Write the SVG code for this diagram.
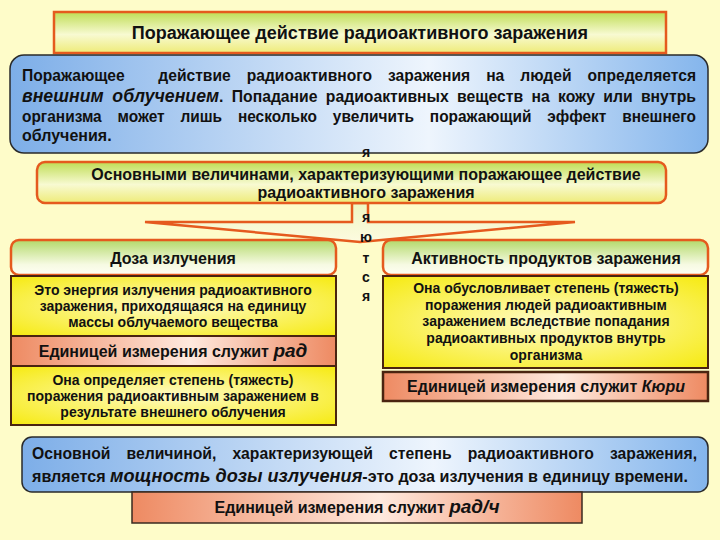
<svg xmlns="http://www.w3.org/2000/svg" width="720" height="540" viewBox="0 0 720 540">
<defs>
<linearGradient id="gGreen" x1="0" y1="0" x2="0" y2="1">
<stop offset="0" stop-color="#BFDD55"/><stop offset="0.55" stop-color="#F8FAD2"/><stop offset="1" stop-color="#EEEB78"/>
</linearGradient>
<linearGradient id="gHead" x1="0" y1="0" x2="0" y2="1">
<stop offset="0" stop-color="#B3D96A"/><stop offset="0.7" stop-color="#F6FAE2"/><stop offset="1" stop-color="#FFFFF4"/>
</linearGradient>
<linearGradient id="gBlue" x1="0" y1="0" x2="1" y2="0">
<stop offset="0" stop-color="#7DAEE8"/><stop offset="0.6" stop-color="#EEF5FD"/><stop offset="1" stop-color="#84B5EC"/>
</linearGradient>
<radialGradient id="gYellow" cx="0.5" cy="0.5" r="0.7">
<stop offset="0" stop-color="#FFFBC4"/><stop offset="1" stop-color="#F6EA10"/>
</radialGradient>
<linearGradient id="gSalmon" x1="0" y1="0" x2="1" y2="0">
<stop offset="0" stop-color="#EE8A62"/><stop offset="0.55" stop-color="#FFE9DE"/><stop offset="1" stop-color="#EE8A62"/>
</linearGradient>
<linearGradient id="gFunnel" x1="0" y1="0" x2="0" y2="1">
<stop offset="0" stop-color="#EEF6C2"/><stop offset="1" stop-color="#FDFBE0"/>
</linearGradient>
</defs>
<style>
text{font-family:"Liberation Sans",Arial,sans-serif;font-weight:bold;fill:#111}
.c{text-anchor:middle}
.o{stroke:#E55A1E;stroke-width:2.5}
.d{stroke:#4A2410;stroke-width:2}
.bl{fill:url(#gBlue);stroke:#2A2A2A;stroke-width:1.5}
.s14{font-size:14px}
.s16{font-size:16px}
.it{font-style:italic}
</style>
<rect width="720" height="540" fill="#FEFCC9"/>

<g id="connectors">
<polygon points="145,222 352,222 352,203 368,203 368,222 575,222 360,242" fill="url(#gFunnel)" stroke="#E55A1E" stroke-width="2.5"/>
</g>

<g id="title">
<rect x="54" y="12" width="612" height="41" class="o" fill="url(#gGreen)"/>
<text class="c" x="360" y="39" style="font-size:18px">Поражающее  действие радиоактивного заражения</text>
</g>

<g id="intro">
<rect x="10" y="55" width="698" height="98" rx="14" class="bl"/>
<text class="s16" x="22" y="81" textLength="674" lengthAdjust="spacingAndGlyphs" word-spacing="12">Поражающее <tspan dx="18">действие</tspan> радиоактивного заражения на людей определяется</text>
<text class="s16" x="22" y="102" textLength="674" lengthAdjust="spacingAndGlyphs" word-spacing="4"><tspan class="it" style="font-size:18px">внешним облучением</tspan>. Попадание радиоактивных веществ на кожу или внутрь</text>
<text class="s16" x="22" y="122" textLength="674" lengthAdjust="spacingAndGlyphs" word-spacing="12">организма может лишь несколько увеличить поражающий эффект внешнего</text>
<text class="s16" x="22" y="141">облучения.</text>
</g>

<g id="main">
<rect x="37" y="162" width="629" height="41" rx="8" class="o" fill="url(#gGreen)"/>
<text class="c s16" x="366" y="180">Основными величинами, характеризующими поражающее  действие</text>
<text class="c s16" x="366" y="198">радиоактивного заражения</text>
</g>

<g id="dose">
<rect x="11" y="240" width="325" height="35" rx="8" class="o" fill="url(#gHead)"/>
<text class="c s16" x="173" y="264">Доза излучения</text>
<rect x="11" y="276" width="325" height="60" fill="url(#gYellow)" class="d"/>
<text class="c s14" x="173" y="295">Это энергия излучения радиоактивного</text>
<text class="c s14" x="173" y="311">заражения, приходящаяся на единицу</text>
<text class="c s14" x="173" y="327">массы облучаемого вещества</text>
<rect x="11" y="336" width="325" height="30" fill="url(#gSalmon)" class="d"/>
<text class="c s16" x="173" y="357">Единицей измерения служит <tspan class="it" style="font-size:19px">рад</tspan></text>
<rect x="11" y="366" width="325" height="59" fill="url(#gYellow)" class="d"/>
<text class="c s14" x="173" y="385">Она определяет степень (тяжесть)</text>
<text class="c s14" x="173" y="401">поражения радиоактивным заражением в</text>
<text class="c s14" x="173" y="417">результате внешнего облучения</text>
</g>

<g id="activity">
<rect x="383" y="240" width="325" height="35" rx="8" class="o" fill="url(#gHead)"/>
<text class="c s16" x="546" y="264">Активность продуктов заражения</text>
<rect x="383" y="276" width="325" height="92" fill="url(#gYellow)" class="d"/>
<text class="c s14" x="546" y="293">Она обусловливает степень (тяжесть)</text>
<text class="c s14" x="546" y="310">поражения людей радиоактивным</text>
<text class="c s14" x="546" y="326">заражением вследствие попадания</text>
<text class="c s14" x="546" y="343">радиоактивных продуктов внутрь</text>
<text class="c s14" x="546" y="360">организма</text>
<rect x="383" y="372" width="325" height="29" fill="url(#gSalmon)" class="d" style="stroke-width:2.5"/>
<text class="c s16" x="546" y="392">Единицей измерения служит <tspan class="it">Кюри</tspan></text>
</g>

<g id="verb">
<text class="c s14" x="366" y="157">я</text>
<text class="c s14" x="366" y="222">я</text>
<text class="c s14" x="366" y="242">ю</text>
<text class="c s14" x="366" y="263">т</text>
<text class="c s14" x="366" y="282">с</text>
<text class="c s14" x="366" y="301">я</text>
</g>

<g id="rate">
<rect x="22" y="437" width="686" height="55" rx="10" class="bl"/>
<text class="s16" x="32" y="459" textLength="665" lengthAdjust="spacingAndGlyphs" word-spacing="12">Основной величиной, характеризующей степень радиоактивного заражения,</text>
<text class="s16" x="32" y="482" textLength="656" lengthAdjust="spacingAndGlyphs">является <tspan class="it" style="font-size:18px">мощность дозы излучения</tspan>-это доза излучения в единицу времени.</text>
</g>

<g id="rate-unit">
<rect x="132" y="492" width="450" height="31" fill="url(#gSalmon)" stroke="#3A2A20" stroke-width="1.5"/>
<text class="c s16" x="357" y="513">Единицей измерения служит <tspan class="it" style="font-size:19px">рад/ч</tspan></text>
</g>
</svg>
